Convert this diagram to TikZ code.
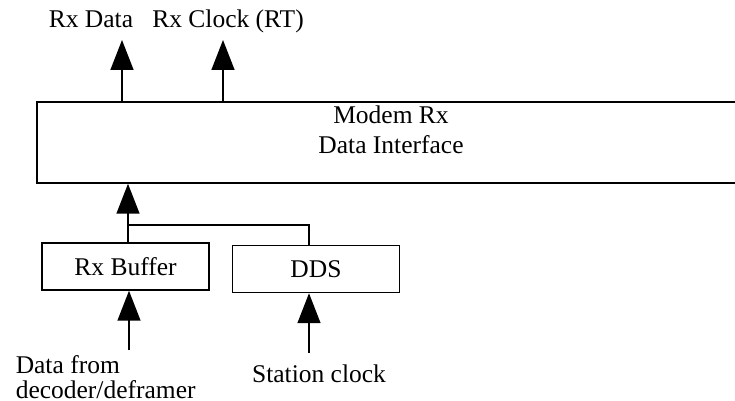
\documentclass[tikz,border=0pt]{standalone}
\usepackage{fontspec}
\setmainfont{Liberation Serif}
\usetikzlibrary{arrows.meta, positioning}

\begin{document}
\begin{tikzpicture}[
  x=0.5pt, y=-0.5pt, font=\fontsize{12.75}{12.5}\selectfont,
  line width=0.75pt,
  > = {Triangle[width=11.5pt,length=15pt]},
  block/.style = {draw,rectangle,inner sep=0pt,minimum width=83.5pt,minimum height=23.5pt},
  lbl/.style = {inner sep=0pt}
  ]
  \clip (0,0) rectangle (735,401);
  \node[block,minimum width=351pt,minimum height=40.5pt] (modem) at (388,142.5) {};
  \node[lbl,anchor=north,align=center,font=\fontsize{12.75}{15}\selectfont] (modemtxt) at (391,104.8) {Modem Rx\\Data Interface};
  \node[block] (buffer) at (125.5,266.5) {Rx Buffer};
  \node[block] (dds) at (316,269) {DDS};
  \node[lbl,anchor=base] (rxdatatxt) at (91,28) {Rx Data};
  \node[lbl,anchor=base] (rxclktxt) at (228,28) {Rx Clock (RT)};
  \node[lbl,anchor=north west,align=left] (bufintxt) at (15,354.6) {Data from\\decoder/deframer};
  \node[lbl,anchor=base] (ddsintxt) at (319,382) {Station clock};
  \coordinate (rxdata) at (122,40);
  \coordinate (rxclk) at (223,40);
  \coordinate (join) at (128,225);
  \coordinate (bufin) at (129,350);
  \coordinate (ddsin) at (309,353);
  \draw[->] (modem.north -| rxdata) -- (rxdata);
  \draw[->] (modem.north -| rxclk) -- (rxclk);
  \draw[->] (buffer.north -| join) -- (modem.south -| join);
  \draw (join) -| (dds.north -| ddsin);
  \draw[->] (bufin) -- (buffer.south -| bufin);
  \draw[->] (ddsin) -- (dds.south -| ddsin);
\end{tikzpicture}
\end{document}
